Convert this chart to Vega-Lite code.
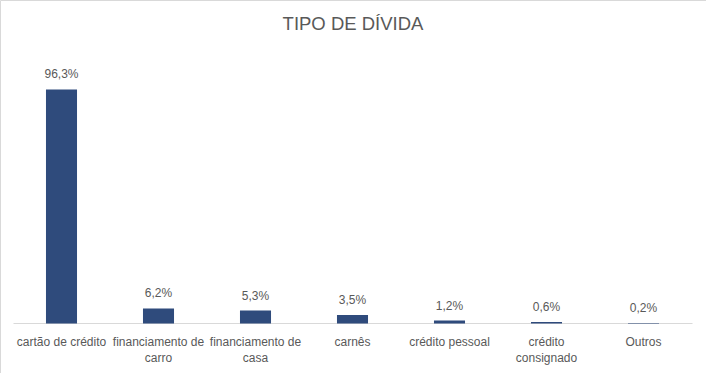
{
  "$schema": "https://vega.github.io/schema/vega-lite/v6.json",
  "width": 706,
  "height": 373,
  "autosize": "none",
  "padding": 0,
  "background": "white",
  "title": {
    "text": "TIPO DE DÍVIDA",
    "anchor": "middle",
    "offset": -33,
    "fontSize": 18.5,
    "font": "Liberation Sans",
    "fontWeight": "normal",
    "color": "#595959"
  },
  "data": {
    "values": [
      {"tipo": "cartão de crédito", "valor": 96.3, "rotulo": "96,3%"},
      {"tipo": "financiamento de carro", "valor": 6.2, "rotulo": "6,2%"},
      {"tipo": "financiamento de casa", "valor": 5.3, "rotulo": "5,3%"},
      {"tipo": "carnês", "valor": 3.5, "rotulo": "3,5%"},
      {"tipo": "crédito pessoal", "valor": 1.2, "rotulo": "1,2%"},
      {"tipo": "crédito consignado", "valor": 0.6, "rotulo": "0,6%"},
      {"tipo": "Outros", "valor": 0.2, "rotulo": "0,2%"}
    ]
  },
  "encoding": {
    "x": {
      "field": "tipo",
      "type": "nominal",
      "sort": null,
      "scale": {"range": [13, 692], "paddingInner": 0.68, "paddingOuter": 0.34},
      "axis": {
        "title": null,
        "offset": -50,
        "labelAngle": 0,
        "ticks": false,
        "domainColor": "#D9D9D9",
        "labelColor": "#595959",
        "labelFont": "Liberation Sans",
        "labelFontSize": 12,
        "labelPadding": 13,
        "labelLineHeight": 16,
        "labelLimit": 200,
        "labelExpr": "datum.label == 'financiamento de carro' ? ['financiamento de', 'carro'] : datum.label == 'financiamento de casa' ? ['financiamento de', 'casa'] : datum.label == 'crédito consignado' ? ['crédito', 'consignado'] : datum.label"
      }
    },
    "y": {
      "field": "valor",
      "type": "quantitative",
      "scale": {"domain": [0, 100], "range": [323.5, 80.5], "nice": false},
      "axis": null
    }
  },
  "layer": [
    {"mark": {"type": "bar", "color": "#2F4B7C"}},
    {
      "mark": {
        "type": "text",
        "baseline": "alphabetic",
        "dy": -11,
        "font": "Liberation Sans",
        "fontSize": 12,
        "color": "#595959"
      },
      "encoding": {"text": {"field": "rotulo"}}
    }
  ],
  "config": {
    "view": {"stroke": "#D9D9D9", "strokeWidth": 1},
    "axis": {"grid": false}
  }
}
